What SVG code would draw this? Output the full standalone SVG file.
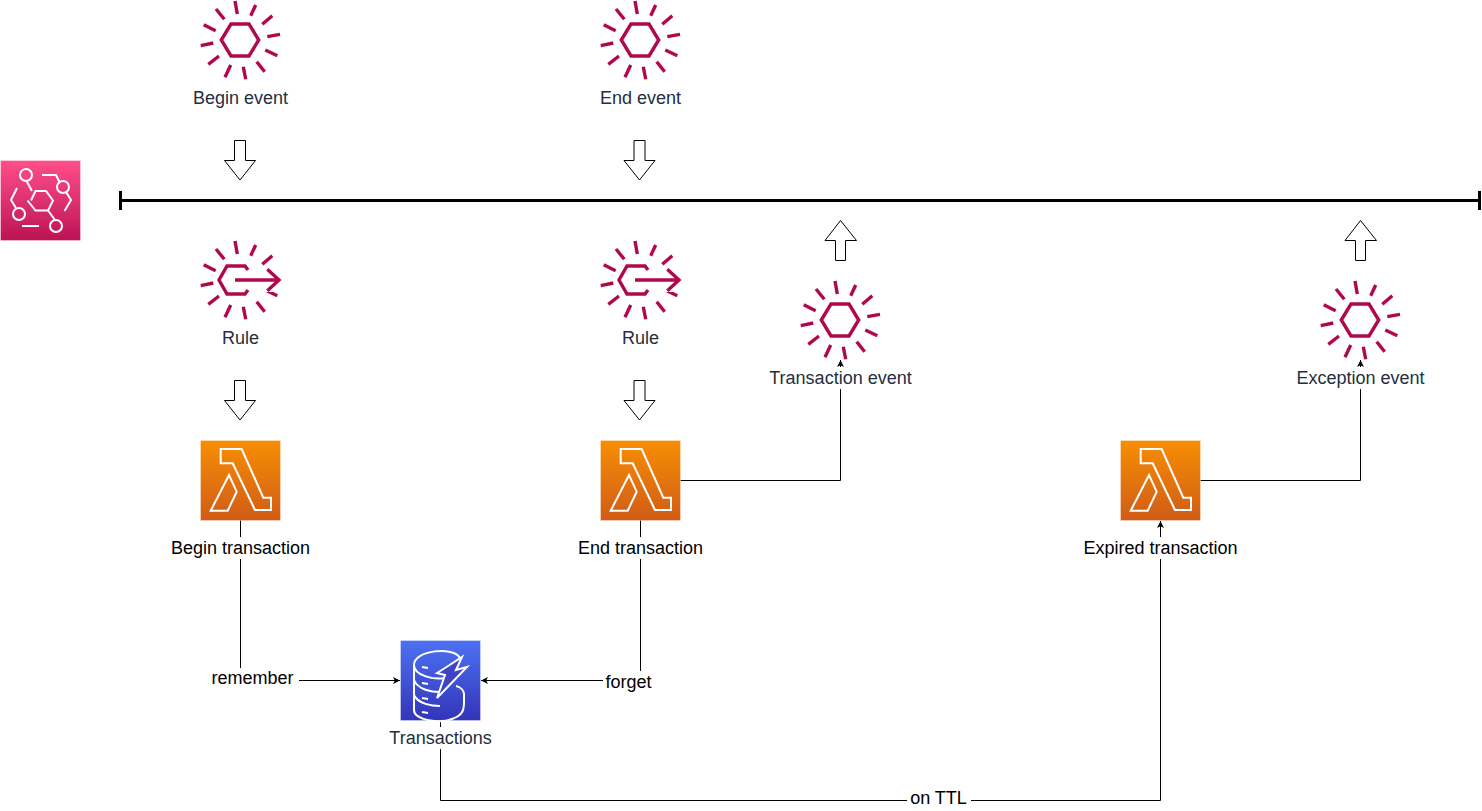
<svg xmlns="http://www.w3.org/2000/svg" xmlns:xlink="http://www.w3.org/1999/xlink" width="1482" height="811" viewBox="0 0 1482 811">
<style>
text{font-family:"Liberation Sans",Arial,sans-serif;font-size:18px;text-anchor:middle}
.dark{fill:#232F3E}
.lbl{fill:#000}
.bg{fill:#fff}
.conn{fill:none;stroke:#000;stroke-width:1}
.block{fill:#fff;stroke:#000;stroke-width:1;stroke-linejoin:miter}
.ev{fill:none;stroke:#B0084D;stroke-width:3.4}
.ico{fill:none;stroke:#fff;stroke-width:2}
</style>
<defs>
<linearGradient id="gPink" x1="0" y1="0" x2="0" y2="1"><stop offset="0" stop-color="#FF4F8B"/><stop offset="1" stop-color="#BC1356"/></linearGradient>
<linearGradient id="gOrange" x1="0" y1="0" x2="0" y2="1"><stop offset="0" stop-color="#F78E04"/><stop offset="1" stop-color="#D05C17"/></linearGradient>
<linearGradient id="gBlue" x1="0" y1="0" x2="0" y2="1"><stop offset="0" stop-color="#4D72F3"/><stop offset="1" stop-color="#3334B9"/></linearGradient>
<marker id="tri" markerWidth="8" markerHeight="8" refX="7" refY="3.5" orient="auto" markerUnits="userSpaceOnUse"><path d="M0 0L7 3.5L0 7L1.8 3.5Z" fill="#000"/></marker>
<path id="rays" class="ev" d="M-5-39L-2.7-26M15.7-35L10.7-24.3M32.3-24.3L22.3-15.7M40-5.7L27.3-3.3M37.3 15.7L25.3 10M24.7 31.7L16.7 21.7M5.7 39.3L3.3 26.7M-15 37.3L-9.3 25M-31.7 24.3L-21 16M-39.3 5.7L-26.7 3M-36.3-15.3L-24.3-9.3M-24-31L-15.7-20.7"/>
<g id="evIcon"><use href="#rays"/><path class="ev" d="M-18.7 0L-9-16L9-16L18.7 0L9 16L-9 16Z"/></g>
<g id="ruleIcon"><use href="#rays"/><rect x="12" y="-12" width="30" height="24" fill="#fff"/><path class="ev" d="M8-10L5-14L-13-14L-21 0L-13 14L5 14L8 10M-5 0L39 0M27.3-10.7L39 0L27.3 10.7"/></g>
<g id="lambda"><rect x="0.5" y="0.5" width="80" height="80" fill="url(#gOrange)" stroke="#fff" stroke-opacity=".35"/><path class="ico" d="M20.7 9L41.7 9L63.3 57.7L71 57.7L71 70L55 70L32.7 23.3L20.7 23.3ZM29 35L36.7 51.7L27.7 70.7L10.7 70.7Z"/></g>
<path id="dn" class="block" d="M234.5 140.5L245.5 140.5L245.5 160.5L255.5 160.5L240 180L224.5 160.5L234.5 160.5Z"/>
<path id="up" class="block" d="M835.5 260.5L845.5 260.5L845.5 240.5L856.5 240.5L840.5 220.5L825 240.5L835.5 240.5Z"/>
</defs>

<g id="connectors">
<path class="conn" marker-end="url(#tri)" d="M240.5 520L240.5 680.5L400 680.5"/>
<path class="conn" marker-end="url(#tri)" d="M640.5 520L640.5 680.5L481 680.5"/>
<path class="conn" marker-end="url(#tri)" d="M680 480.5L840.5 480.5L840.5 360"/>
<path class="conn" marker-end="url(#tri)" d="M1200 480.5L1360.5 480.5L1360.5 360"/>
<path class="conn" marker-end="url(#tri)" d="M440.5 720L440.5 800.5L1160.5 800.5L1160.5 521"/>
<path id="bus" fill="none" stroke="#000" stroke-width="3" d="M120.5 200.5L1479.5 200.5M120.5 191L120.5 210M1479.5 191L1479.5 210"/>
<use href="#dn"/>
<use href="#dn" x="399.5"/>
<use href="#dn" y="240"/>
<use href="#dn" x="399.5" y="240"/>
<use href="#up"/>
<use href="#up" x="520"/>
</g>

<g id="bridge"><rect x="0.5" y="160.5" width="80" height="80" fill="url(#gPink)" stroke="#fff" stroke-opacity=".35"/>
<path class="ico" d="M31 200.5L35.5 191L46 191L53 200.5L48 210.5L35.5 210.5L27.5 200.5M32 191L27 182M48 210.5L55 220M42 175L56 175L60 183M66 192L71 200L64.500 211M17 188L11 200L16 208M22 226L29 226L39 226"/>
<circle class="ico" cx="26" cy="175" r="6"/><circle class="ico" cx="63" cy="187" r="6"/><circle class="ico" cx="19" cy="214" r="6"/><circle class="ico" cx="56" cy="226" r="6"/></g>

<g id="beginEvent"><use href="#evIcon" x="240" y="40"/><rect class="bg" x="184" y="88" width="113" height="22"/><text class="dark" x="240.500" y="104">Begin event</text></g>
<g id="endEvent"><use href="#evIcon" x="640" y="40"/><text class="dark" x="640.500" y="104">End event</text></g>
<g id="rule1"><use href="#ruleIcon" x="240" y="280"/><text class="dark" x="240.500" y="344">Rule</text></g>
<g id="rule2"><use href="#ruleIcon" x="640" y="280"/><text class="dark" x="640.500" y="344">Rule</text></g>
<g id="txEvent"><use href="#evIcon" x="840" y="320"/><rect class="bg" x="760" y="367" width="162" height="22"/><text class="dark" x="840.500" y="384">Transaction event</text></g>
<g id="exEvent"><use href="#evIcon" x="1360" y="320"/><rect class="bg" x="1288" y="367" width="146" height="22"/><text class="dark" x="1360.500" y="384">Exception event</text></g>

<g id="beginTx"><use href="#lambda" x="200" y="440"/><rect class="bg" x="162" y="537" width="157" height="22"/><text class="lbl" x="240.500" y="554">Begin transaction</text></g>
<g id="endTx"><use href="#lambda" x="600" y="440"/><rect class="bg" x="570" y="537" width="141" height="22"/><text class="lbl" x="640.500" y="554">End transaction</text></g>
<g id="expTx"><use href="#lambda" x="1120" y="440"/><rect class="bg" x="1074" y="537" width="173" height="22"/><text class="lbl" x="1160.500" y="554">Expired transaction</text></g>

<g id="transactions"><rect x="400.500" y="640.500" width="80" height="80" fill="url(#gBlue)" stroke="#fff" stroke-opacity=".35"/>
<path class="ico" d="M414 665C414 650 454 646 460 658M414 665C414 676 435 680 445 678M414 665L414 710C414 720 440 724 452 719C460 716 464 713 464 703L464 694C464 690 460 687 456 686M414 680C418 690 432 692 440 692M414 695C418 704 432 706 440 706M422 667L428 668M422 683L428 684M422 698L428 699M422 712L428 713"/>
<path fill="#4143C6" stroke="#fff" stroke-width="2" d="M445 668L462 657L456 670L467 667L437 698L445 675L437 673Z"/>
<rect class="bg" x="382" y="727" width="117" height="22"/><text class="dark" x="440.500" y="744">Transactions</text></g>

<g id="labels">
<rect class="bg" x="207" y="668" width="92" height="22"/><text class="lbl" x="252.500" y="684">remember</text>
<rect class="bg" x="603" y="671" width="52" height="22"/><text class="lbl" x="628.500" y="688">forget</text>
<rect class="bg" x="907" y="790" width="64" height="20"/><text class="lbl" x="938.500" y="804">on TTL</text>
</g>
</svg>
